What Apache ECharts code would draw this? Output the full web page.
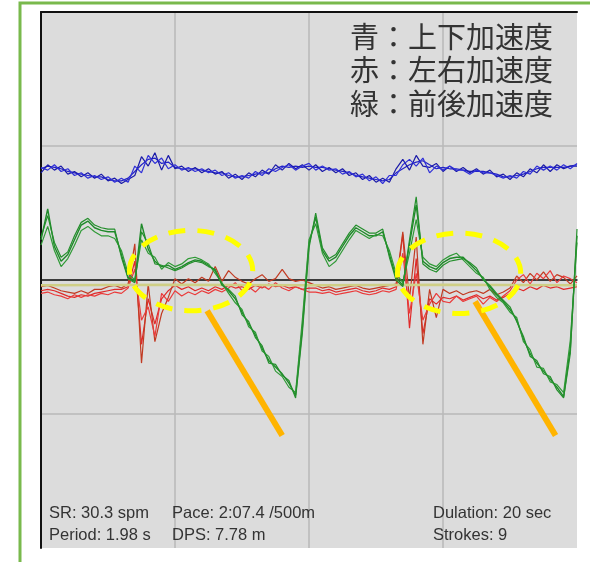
<!DOCTYPE html>
<html><head><meta charset="utf-8">
<script src="https://cdn.jsdelivr.net/npm/echarts@6/dist/echarts.min.js"></script>
<style>html,body{margin:0;padding:0;background:#fff}#c{width:590px;height:562px}</style>
</head><body><div id="c"></div>
<script>
// sampling step of the time axis (seconds) and axis ticks
var timeStep = 0.05;
var xTicks = [0, 1, 2, 3, 4];
var yTicks = [-2, -1, 0, 1, 2];

// 前後加速度 (green), three overlaid strokes
var green1 = [
 0.30,0.53,0.25,0.14,0.19,0.30,0.41,0.44,0.39,0.37,
 0.36,0.36,0.19,0.02,-0.01,0.42,0.23,0.14,0.10,0.11,
 0.08,0.10,0.13,0.15,0.14,0.11,0.07,-0.03,-0.08,-0.14,
 -0.24,-0.33,-0.41,-0.51,-0.60,-0.65,-0.70,-0.77,-0.86,-0.36,
 0.27,0.47,0.22,0.14,0.17,0.25,0.33,0.39,0.36,0.33,
 0.33,0.36,0.19,0.02,-0.04,0.27,0.56,0.14,0.10,0.08,
 0.13,0.16,0.17,0.17,0.12,0.07,0.01,-0.05,-0.11,-0.16,
 -0.22,-0.30,-0.44,-0.55,-0.62,-0.68,-0.74,-0.80,-0.87,-0.51,
 0.33];
var green2 = [
 0.26,0.40,0.22,0.10,0.16,0.26,0.37,0.40,0.36,0.33,
 0.33,0.31,0.22,0.05,0.00,0.30,0.20,0.17,0.08,0.13,
 0.10,0.12,0.16,0.17,0.15,0.12,0.05,-0.02,-0.10,-0.17,
 -0.22,-0.35,-0.39,-0.53,-0.57,-0.68,-0.72,-0.80,-0.84,-0.30,
 0.30,0.42,0.20,0.10,0.14,0.22,0.30,0.37,0.34,0.31,
 0.34,0.33,0.22,0.05,-0.02,0.20,0.45,0.17,0.12,0.10,
 0.15,0.18,0.20,0.15,0.10,0.05,0.02,-0.07,-0.13,-0.17,
 -0.24,-0.28,-0.46,-0.52,-0.65,-0.66,-0.76,-0.78,-0.84,-0.45,
 0.28];
var green3 = [
 0.32,0.48,0.28,0.17,0.21,0.33,0.43,0.46,0.41,0.39,
 0.38,0.38,0.17,0.01,-0.02,0.36,0.27,0.12,0.11,0.09,
 0.07,0.09,0.12,0.14,0.13,0.10,0.08,-0.04,-0.07,-0.12,
 -0.26,-0.31,-0.43,-0.49,-0.62,-0.63,-0.71,-0.75,-0.88,-0.40,
 0.24,0.50,0.24,0.16,0.19,0.27,0.35,0.41,0.38,0.35,
 0.35,0.38,0.17,0.00,-0.05,0.30,0.62,0.12,0.08,0.06,
 0.11,0.14,0.15,0.16,0.13,0.09,0.00,-0.04,-0.10,-0.15,
 -0.20,-0.31,-0.42,-0.57,-0.60,-0.70,-0.72,-0.82,-0.88,-0.55,
 0.38];

// 左右加速度 (red)
var red1 = [
 -0.08,-0.07,-0.08,-0.10,-0.12,-0.13,-0.11,-0.12,-0.10,-0.09,
 -0.08,-0.07,-0.07,-0.05,0.14,-0.48,-0.14,-0.33,-0.14,-0.08,
 -0.04,-0.07,-0.05,-0.08,-0.06,-0.08,-0.05,-0.07,-0.04,-0.06,
 -0.05,-0.07,-0.04,-0.06,-0.03,-0.05,-0.04,-0.06,-0.05,-0.07,
 -0.06,-0.06,-0.08,-0.07,-0.09,-0.08,-0.07,-0.06,-0.08,-0.09,
 -0.08,-0.06,-0.07,-0.05,0.34,-0.36,0.16,-0.40,-0.14,-0.18,
 -0.13,-0.14,-0.12,-0.15,-0.13,-0.11,-0.14,-0.12,-0.15,-0.13,
 -0.10,-0.06,-0.08,-0.05,-0.07,-0.04,-0.06,-0.05,-0.07,-0.06,
 -0.05];
var red2 = [
 -0.05,-0.04,-0.06,-0.08,-0.09,-0.10,-0.08,-0.10,-0.07,-0.07,
 -0.05,-0.04,-0.06,-0.03,0.27,-0.62,-0.03,-0.46,-0.25,-0.13,
 0.01,-0.03,0.01,-0.02,0.02,-0.01,0.10,-0.01,0.07,0.02,
 -0.01,-0.03,0.01,0.04,-0.01,0.01,0.08,0.01,-0.01,0.00,
 -0.02,-0.04,-0.06,-0.05,-0.07,-0.06,-0.05,-0.04,-0.06,-0.07,
 -0.06,-0.05,-0.04,-0.03,0.36,-0.14,0.32,-0.48,-0.07,-0.28,
 -0.07,-0.10,-0.08,-0.11,-0.09,-0.08,-0.10,-0.07,-0.11,-0.09,
 -0.06,0.03,-0.02,0.05,0.00,0.06,-0.01,0.04,0.02,-0.03,
 0.03];
var red3 = [
 -0.10,-0.09,-0.11,-0.12,-0.14,-0.11,-0.13,-0.11,-0.12,-0.10,
 -0.11,-0.09,-0.10,-0.06,0.08,-0.30,-0.20,-0.42,-0.10,-0.16,
 -0.08,-0.12,-0.09,-0.11,-0.08,-0.10,-0.07,-0.09,-0.06,-0.02,
 -0.08,-0.05,-0.09,-0.04,-0.07,-0.02,-0.06,-0.08,-0.05,-0.07,
 -0.09,-0.09,-0.10,-0.09,-0.11,-0.10,-0.09,-0.08,-0.10,-0.11,
 -0.10,-0.08,-0.09,-0.07,0.20,-0.25,0.05,-0.30,-0.18,-0.10,
 -0.16,-0.17,-0.12,-0.16,-0.14,-0.12,-0.18,-0.13,-0.16,-0.12,
 -0.08,0.00,0.04,-0.03,0.05,0.01,0.07,-0.02,0.03,0.01,
 -0.02];

// 上下加速度 (blue)
var blue1 = [
 0.83,0.85,0.84,0.83,0.81,0.80,0.79,0.78,0.77,0.77,
 0.75,0.74,0.74,0.76,0.81,0.86,0.90,0.91,0.87,0.88,
 0.84,0.83,0.83,0.83,0.82,0.81,0.80,0.80,0.78,0.77,
 0.77,0.78,0.79,0.80,0.80,0.83,0.85,0.84,0.85,0.84,
 0.85,0.84,0.84,0.83,0.82,0.81,0.80,0.78,0.77,0.76,
 0.75,0.74,0.75,0.80,0.83,0.86,0.88,0.89,0.86,0.83,
 0.84,0.83,0.83,0.82,0.81,0.81,0.81,0.80,0.79,0.77,
 0.77,0.78,0.79,0.81,0.83,0.84,0.84,0.84,0.84,0.85,
 0.86];
var blue2 = [
 0.80,0.86,0.82,0.85,0.79,0.81,0.77,0.80,0.76,0.79,
 0.74,0.76,0.72,0.75,0.78,0.92,0.85,0.95,0.82,0.93,
 0.83,0.85,0.81,0.84,0.80,0.83,0.79,0.81,0.76,0.79,
 0.75,0.80,0.77,0.82,0.79,0.86,0.82,0.87,0.83,0.86,
 0.82,0.86,0.81,0.84,0.80,0.83,0.78,0.80,0.75,0.78,
 0.73,0.76,0.73,0.83,0.90,0.82,0.93,0.85,0.84,0.87,
 0.81,0.85,0.81,0.84,0.80,0.83,0.79,0.82,0.77,0.79,
 0.75,0.80,0.77,0.83,0.80,0.86,0.81,0.86,0.83,0.85,
 0.85];
var blue3 = [
 0.84,0.82,0.86,0.81,0.83,0.78,0.80,0.76,0.78,0.75,
 0.77,0.73,0.76,0.73,0.85,0.80,0.93,0.87,0.91,0.83,
 0.86,0.82,0.84,0.81,0.83,0.80,0.82,0.78,0.80,0.76,
 0.78,0.76,0.81,0.78,0.83,0.81,0.84,0.86,0.82,0.85,
 0.87,0.82,0.85,0.82,0.83,0.79,0.81,0.77,0.79,0.74,
 0.77,0.72,0.78,0.78,0.86,0.90,0.85,0.91,0.80,0.85,
 0.82,0.85,0.82,0.82,0.79,0.82,0.80,0.80,0.78,0.76,
 0.78,0.76,0.81,0.79,0.85,0.82,0.85,0.82,0.86,0.83,
 0.87];

// pale baseline band
var baseT = [0, 1, 2, 3, 4];
var baseV = [-0.04, -0.035, -0.04, -0.035, -0.04];

// annotations in data units
var orange1 = [[1.24, -0.23], [1.80, -1.16]];
var orange2 = [[3.24, -0.16], [3.84, -1.16]];
var ellipseCenters = [[1.12, 0.07], [3.12, 0.05]];
var ellipseRadii = [0.46, 0.30];

var legendLines = ['青：上下加速度', '赤：左右加速度', '緑：前後加速度'];
var statsLeft = ['SR: 30.3 spm', 'Period: 1.98 s'];
var statsMid = ['Pace: 2:07.4 /500m', 'DPS: 7.78 m'];
var statsRight = ['Dulation: 20 sec', 'Strokes: 9'];

function toPairs(arr) { return arr.map(function (v, i) { return [+(i * timeStep).toFixed(3), v]; }); }
function trace(arr, color, w) {
  return { type: 'line', data: toPairs(arr), symbol: 'none', silent: true,
    lineStyle: { color: color, width: w || 1.2 }, z: 3 };
}

var chart = echarts.init(document.getElementById('c'));
var series = [
  trace(blue1, '#2222c8'), trace(blue2, '#1a1aa8'), trace(blue3, '#3030d8'),
  trace(red1, '#e02a2a'), trace(red2, '#c23a22'), trace(red3, '#ea3b3b'),
  { type: 'line', data: baseT.map(function (t, i) { return [t, baseV[i]]; }), symbol: 'none', silent: true,
    lineStyle: { color: '#cfcf86', width: 2.5 }, z: 3 },
  trace(green1, '#1f8a2a', 1.4), trace(green2, '#2f9a36'), trace(green3, '#248f2c'),
  { type: 'line', data: orange1, symbol: 'none', silent: true, lineStyle: { color: '#ffb400', width: 6, cap: 'butt' }, z: 5 },
  { type: 'line', data: orange2, symbol: 'none', silent: true, lineStyle: { color: '#ffb400', width: 6, cap: 'butt' }, z: 5 }
];

chart.setOption({
  animation: false,
  backgroundColor: '#ffffff',
  grid: { left: 41, top: 12, width: 536, height: 536, show: true, backgroundColor: '#dcdcdc', borderWidth: 0 },
  xAxis: [
    { type: 'value', min: xTicks[0], max: xTicks[xTicks.length - 1], interval: 1,
      axisLine: { show: true, onZero: true, lineStyle: { color: '#111', width: 1.5 } },
      axisTick: { show: false }, axisLabel: { show: false },
      splitLine: { show: true, showMinLine: false, showMaxLine: false, lineStyle: { color: '#b9b9b9', width: 1.5 } } },
    { type: 'value', position: 'top', min: xTicks[0], max: xTicks[xTicks.length - 1],
      axisLine: { show: true, onZero: false, lineStyle: { color: '#111', width: 2 } },
      axisTick: { show: false }, axisLabel: { show: false }, splitLine: { show: false } }
  ],
  yAxis: { type: 'value', min: yTicks[0], max: yTicks[yTicks.length - 1], interval: 1,
    axisLine: { show: true, onZero: false, lineStyle: { color: '#111', width: 2 } },
    axisTick: { show: false }, axisLabel: { show: false },
    splitLine: { show: true, showMinLine: false, showMaxLine: false, lineStyle: { color: '#b9b9b9', width: 1.5 } } },
  series: series
});

var gfx = [
  { type: 'rect', shape: { x: 20, y: 3, width: 700, height: 700 }, style: { fill: 'none', stroke: '#79b94c', lineWidth: 3 }, z: 100, silent: true },
  { type: 'text', left: 350, top: 20, z: 100, silent: true,
    style: { text: legendLines.join('\n'), font: '29px "Noto Sans CJK JP"', lineHeight: 33.5, fill: '#333' } }
];
function statText(lines, x) {
  return lines.map(function (s, i) {
    return { type: 'text', x: x, y: 513 + i * 22, z: 100, silent: true,
      style: { text: s, font: '16.5px "Liberation Sans", Arial', fill: '#333', textVerticalAlign: 'middle' } };
  });
}
gfx = gfx.concat(statText(statsLeft, 49), statText(statsMid, 172), statText(statsRight, 433));
ellipseCenters.forEach(function (c) {
  var p = chart.convertToPixel({ gridIndex: 0 }, c);
  var px = chart.convertToPixel({ gridIndex: 0 }, [c[0] + ellipseRadii[0], c[1] + ellipseRadii[1]]);
  gfx.push({ type: 'ellipse', shape: { cx: p[0], cy: p[1], rx: Math.abs(px[0] - p[0]), ry: Math.abs(px[1] - p[1]) },
    style: { fill: 'none', stroke: '#ffff00', lineWidth: 5, lineDash: [17, 12] }, z: 90, silent: true });
});
chart.setOption({ graphic: gfx });
</script></body></html>
